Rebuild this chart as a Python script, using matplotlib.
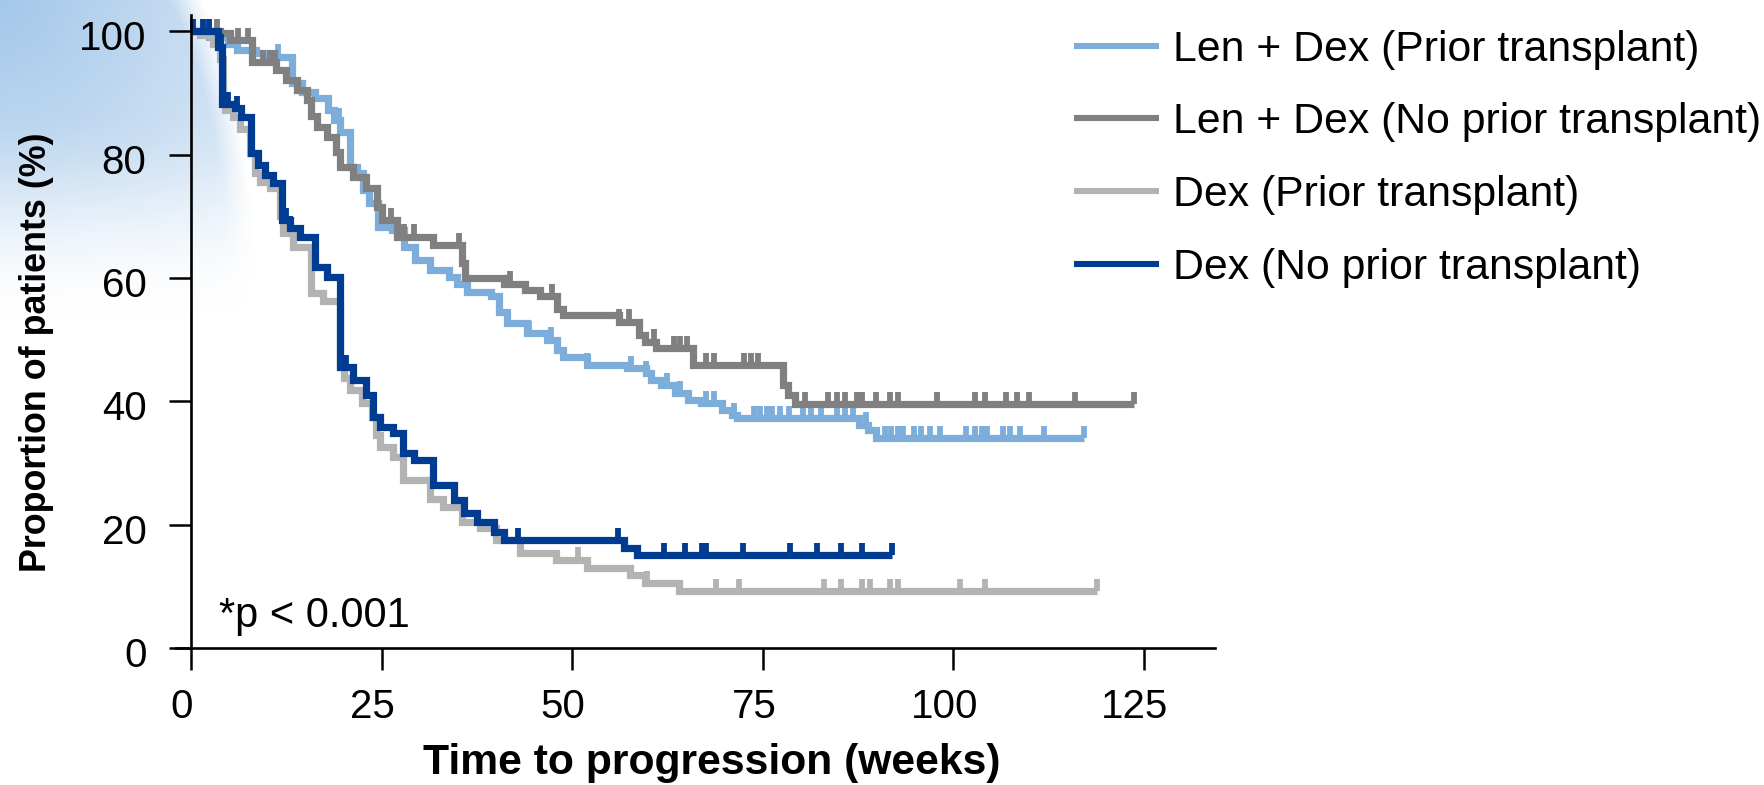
import numpy as np
import matplotlib
matplotlib.use("Agg")
import matplotlib.pyplot as plt
import matplotlib.transforms as mtransforms
from matplotlib.lines import Line2D

plt.rcParams['font.family'] = ['Liberation Sans', 'DejaVu Sans']

# ---------------------------------------------------------------- data
week_ticks = [0, 25, 50, 75, 100, 125]
pct_ticks = [0, 20, 40, 60, 80, 100]

series_labels = [
    "Len + Dex (Prior transplant)",
    "Len + Dex (No prior transplant)",
    "Dex (Prior transplant)",
    "Dex (No prior transplant)",
]
series_colors = ["#7dadda", "#808080", "#b3b3b3", "#003d92"]

# Len + Dex (Prior transplant): event times (weeks) and survival after each event (%)
ld_prior_times = [2.3, 4.8, 6.0, 8.5, 10.2, 13.2, 14.5, 16.3, 18.0, 18.8, 19.6, 20.9,
                  21.8, 22.6, 23.4, 24.5, 26.3, 28.0, 29.4, 31.4, 33.8, 34.9, 36.2,
                  39.3, 40.4, 41.5, 44.1, 46.7, 48.0, 48.8, 51.9, 57.2, 59.7, 60.4,
                  61.7, 63.5, 65.2, 66.9, 69.6, 71.0, 71.6, 87.6, 88.8, 89.9]
ld_prior_surv = [99.0, 98.0, 97.0, 96.5, 95.9, 91.6, 90.2, 89.2, 87.2, 85.6, 83.7, 78.0,
                 77.0, 74.3, 72.2, 68.3, 67.8, 65.0, 62.9, 61.3, 60.2, 59.1, 57.8,
                 57.0, 54.5, 52.7, 51.0, 50.0, 48.3, 47.2, 45.9, 45.4, 44.6, 43.5,
                 42.6, 41.3, 40.2, 39.7, 38.6, 37.8, 37.3, 36.2, 35.3, 34.0]
ld_prior_censor = [11.4, 19.4, 44.3, 47.2, 51.9, 57.7, 59.7, 62.5, 64.2, 67.5, 68.6,
                   71.2, 73.8, 74.7, 75.6, 76.2, 77.3, 78.4, 80.3, 81.3, 82.6, 84.8,
                   85.8, 86.8, 88.5, 91.0, 91.8, 92.8, 93.4, 94.8, 95.8, 97.0, 98.3,
                   101.6, 102.9, 103.8, 104.4, 106.5, 107.4, 108.7, 111.9, 117.1]

# Len + Dex (No prior transplant)
ld_noprior_times = [3.8, 5.1, 8.0, 11.2, 12.5, 13.9, 15.2, 15.8, 16.5, 17.8, 19.0, 19.5,
                    21.3, 23.0, 24.4, 25.0, 27.0, 31.8, 35.5, 36.0, 41.0, 43.8, 45.8,
                    48.0, 48.8, 56.2, 58.8, 59.6, 61.0, 65.8, 77.6, 78.3, 79.2]
ld_noprior_surv = [99.7, 98.6, 95.0, 93.7, 92.1, 90.5, 88.9, 86.2, 84.5, 82.9, 80.5, 78.0,
                   76.4, 74.6, 71.5, 69.4, 66.7, 65.3, 62.5, 60.0, 59.1, 58.0, 57.0,
                   55.0, 54.0, 52.9, 50.8, 49.7, 48.6, 45.9, 42.6, 41.0, 39.5]
ld_noprior_censor = [3.4, 6.2, 7.5, 9.5, 10.4, 11.0, 18.0, 26.2, 27.0, 27.9, 29.2, 35.2,
                     41.9, 47.4, 56.2, 57.4, 60.7, 63.3, 64.2, 65.0, 67.5, 68.6, 72.5,
                     73.5, 74.4, 80.5, 83.6, 84.8, 85.8, 87.3, 88.0, 89.8, 91.7, 92.8,
                     97.8, 102.8, 104.1, 106.9, 108.4, 109.9, 115.9, 123.7]

# Dex (Prior transplant)
dex_prior_times = [1.2, 2.9, 3.8, 4.2, 4.5, 5.5, 6.4, 7.7, 8.4, 9.1, 10.4, 11.7, 12.1,
                   13.4, 15.8, 17.3, 19.5, 20.0, 20.9, 22.4, 23.7, 24.2, 24.8, 26.5,
                   27.8, 31.3, 33.1, 35.5, 37.9, 40.0, 43.1, 47.9, 52.0, 57.6, 59.5,
                   64.0]
dex_prior_surv = [99.4, 98.0, 95.5, 89.5, 87.2, 86.1, 84.2, 80.3, 77.0, 75.6, 74.6, 70.0,
                  67.3, 65.0, 57.5, 56.2, 46.0, 43.8, 41.8, 39.7, 37.4, 34.5, 32.6, 31.0,
                  27.2, 24.2, 22.9, 20.5, 19.4, 17.5, 15.4, 14.3, 13.0, 11.8, 10.5,
                  9.2]
dex_prior_censor = [50.8, 59.8, 68.9, 71.9, 83.0, 85.2, 88.0, 89.1, 91.7, 92.7, 100.9,
                    104.1, 118.8]

# Dex (No prior transplant)
dex_noprior_times = [3.6, 4.1, 5.8, 6.6, 7.8, 8.8, 9.7, 10.8, 11.9, 13.0, 14.3, 16.2,
                     17.8, 19.6, 21.3, 23.0, 23.9, 24.8, 26.5, 27.8, 29.2, 31.8, 34.5,
                     35.8, 37.5, 39.7, 41.0, 56.8, 58.5]
dex_noprior_surv = [97.5, 88.2, 87.5, 86.1, 80.3, 78.3, 76.7, 75.4, 69.4, 68.1, 66.6, 61.8,
                    60.2, 45.5, 43.5, 41.0, 37.5, 35.9, 34.8, 31.6, 30.5, 26.4, 24.0,
                    21.9, 20.4, 18.8, 17.5, 16.2, 15.1]
dex_noprior_censor = [0.3, 1.6, 2.4, 3.9, 4.9, 6.0, 12.4, 13.0, 20.3, 21.3, 37.7, 42.9,
                      56.0, 62.0, 64.8, 67.0, 67.6, 72.4, 78.6, 82.1, 85.3, 88.0, 92.0]

curves = [
    (ld_prior_times, ld_prior_surv, ld_prior_censor),
    (ld_noprior_times, ld_noprior_surv, ld_noprior_censor),
    (dex_prior_times, dex_prior_surv, dex_prior_censor),
    (dex_noprior_times, dex_noprior_surv, dex_noprior_censor),
]

# ---------------------------------------------------------------- figure
W, H = 1764, 785
fig = plt.figure(figsize=(W / 100, H / 100), dpi=100)
fig.patch.set_facecolor("white")

# soft blue wash in the upper-left corner
bg = fig.add_axes([0, 0, 1, 1], zorder=-10)
bg.set_xlim(0, W)
bg.set_ylim(H, 0)
bg.axis("off")
yy, xx = np.mgrid[0:420, 0:420].astype(float)
edge = np.sqrt(((xx + 100) / 340.0) ** 2 + ((yy - 260) / 480.0) ** 2)
inside = np.clip((1.0 - edge) / 0.08 + 0.5, 0, 1)
t = np.clip((yy - 110) / 220.0, 0, 1)
vfade = 1.0 - t * t * (3 - 2 * t)
corner = np.clip(1.0 - 0.6 * np.sqrt(xx ** 2 + yy ** 2) / 300.0, 0.2, 1)
alpha = inside * vfade * corner
rgba = np.zeros((420, 420, 4))
rgba[..., 0] = 164 / 255
rgba[..., 1] = 199 / 255
rgba[..., 2] = 233 / 255
rgba[..., 3] = alpha
bg.imshow(rgba, extent=[0, 420, 420, 0], interpolation="bilinear", aspect="auto")

ax = fig.add_axes([0.09966, 0.17452, 0.5890, 0.8060])
ax.patch.set_alpha(0)
ax.set_xlim(-2, 134.3)
ax.set_ylim(0, 102.6)

line_w = 5.2
tick_h = 2.0
for (times, surv, cens), color in zip(curves, series_colors):
    end = cens[-1]
    xs = [0] + list(times) + [end]
    ys = [100] + list(surv) + [surv[-1]]
    ax.step(xs, ys, where="post", color=color, lw=line_w,
            solid_joinstyle="miter", solid_capstyle="butt")
    levels = np.array([100] + list(surv))
    idx = np.searchsorted(np.array(times), np.array(cens), side="right")
    lv = levels[idx]
    ax.vlines(cens, lv, lv + tick_h, color=color, lw=4.2, capstyle="butt")

for side in ("top", "right"):
    ax.spines[side].set_visible(False)
ax.spines["left"].set_position(("data", 0))
ax.spines["left"].set_linewidth(1.9)
ax.spines["bottom"].set_linewidth(1.9)

ax.set_xticks(week_ticks)
ax.set_yticks(pct_ticks)
ax.tick_params(axis="both", direction="out", length=16, width=1.8,
               labelsize=29, colors="black")
ax.tick_params(axis="x", pad=13)
ax.tick_params(axis="y", pad=16)

# tick labels sit slightly left (x) and slightly low (y) of their ticks
x_shift = mtransforms.ScaledTranslation(-9 / 100, 0, fig.dpi_scale_trans)
y_shift = mtransforms.ScaledTranslation(0, -4 / 100, fig.dpi_scale_trans)
for lbl in ax.get_xticklabels():
    lbl.set_transform(lbl.get_transform() + x_shift)
for lbl in ax.get_yticklabels():
    lbl.set_transform(lbl.get_transform() + y_shift)

ax.set_xlabel("Time to progression (weeks)", fontsize=30.7, fontweight="bold",
              va="center")
ax.xaxis.set_label_coords(0.516, -0.1818)
ax.set_ylabel("Proportion of patients (%)", fontsize=25.8, fontweight="bold",
              va="center")
ax.yaxis.set_label_coords(-0.1345, 0.468)

ax.text(3.7, 5.2, "*p < 0.001", fontsize=30, ha="left", va="center")

handles = [Line2D([], [], color=c, lw=4.4, solid_capstyle="butt")
           for c in series_colors]
fig.legend(handles, series_labels, loc="upper left",
           bbox_to_anchor=(1074 / W, 1 - 29.5 / H), frameon=False,
           fontsize=30.8, borderpad=0, borderaxespad=0,
           handlelength=1.987, handletextpad=0.327, labelspacing=0.77)

fig.savefig("out.png", dpi=100)
